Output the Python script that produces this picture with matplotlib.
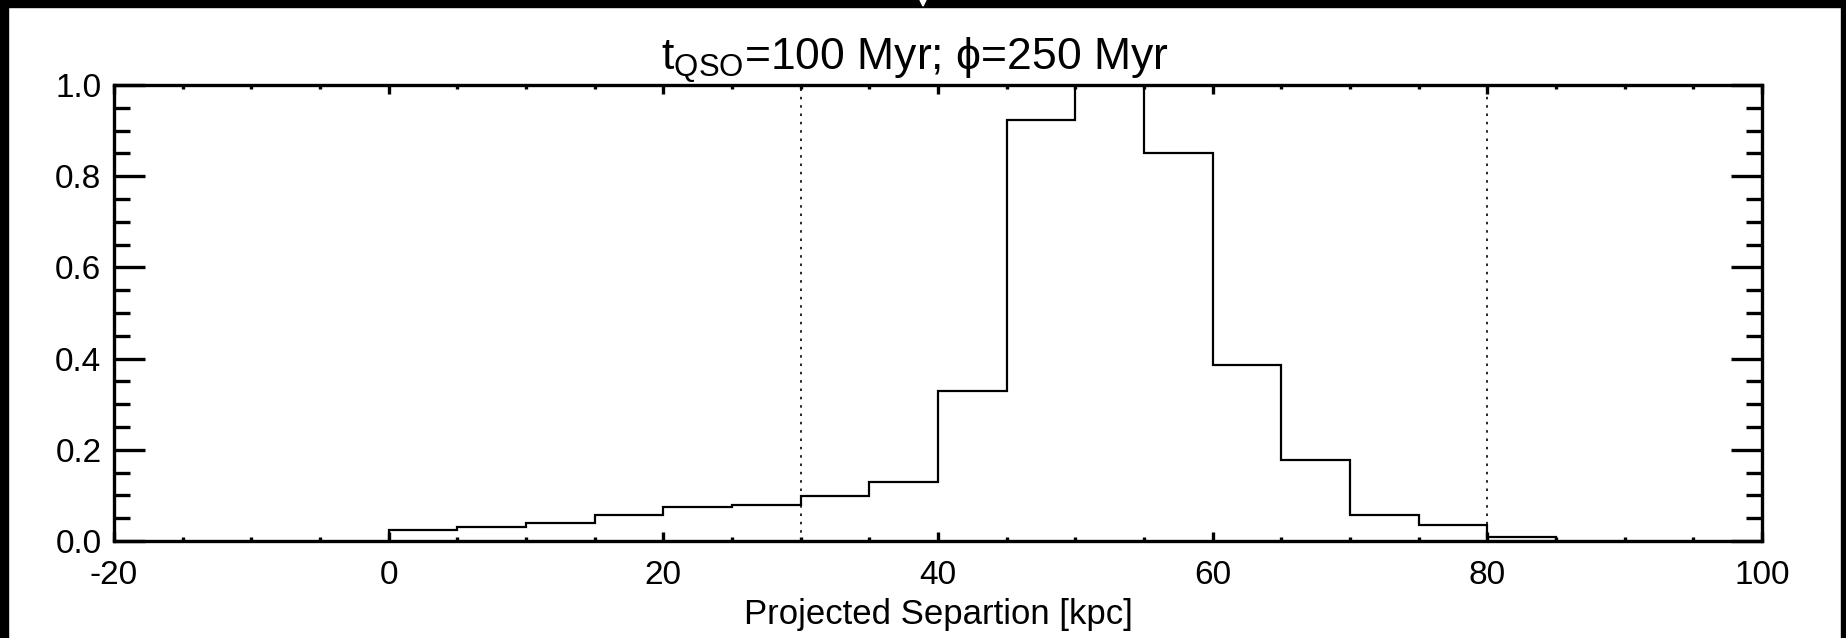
import numpy as np
import matplotlib
matplotlib.use('Agg')
import matplotlib.pyplot as plt
from matplotlib.patches import Rectangle, Polygon

plt.rcParams['font.family'] = ['Liberation Sans', 'DejaVu Sans']
plt.rcParams['mathtext.fontset'] = 'custom'
plt.rcParams['mathtext.rm'] = 'Liberation Sans'
plt.rcParams['axes.unicode_minus'] = False

# histogram bins (kpc) and normalised counts
bin_edges = [0, 5, 10, 15, 20, 25, 30, 35, 40, 45, 50, 55, 60, 65, 70, 75, 80, 85]
counts = [0.024, 0.030, 0.040, 0.057, 0.074, 0.080, 0.099, 0.130, 0.328,
          0.924, 1.0, 0.850, 0.385, 0.178, 0.057, 0.035, 0.008]
markers_x = [30, 80]

xticks = [-20, 0, 20, 40, 60, 80, 100]
yticks = [0.0, 0.2, 0.4, 0.6, 0.8, 1.0]

fig = plt.figure(figsize=(18.46, 6.38), dpi=100)
ax = fig.add_axes([114/1846, 97/638, 1648/1846, 456/638])

ax.stairs(counts, bin_edges, baseline=0, color='black', lw=1.6)
for xm in markers_x:
    ax.axvline(xm, color='black', lw=1.2, dashes=(1.5, 3.5))

ax.set_xlim(-20, 100)
ax.set_ylim(0, 1.0)
ax.set_xticks(xticks)
ax.set_xticks(np.arange(-20, 101, 5), minor=True)
ax.set_yticks(yticks)
ax.set_yticks(np.arange(0, 1.001, 0.05), minor=True)
ax.set_yticklabels(['%.1f' % v for v in yticks])

ax.tick_params(which='both', direction='in', top=True, right=True, width=2.4, labelsize=24)
ax.tick_params(axis='x', which='major', length=6.5, pad=14)
ax.tick_params(axis='x', which='minor', length=3.2)
ax.tick_params(axis='y', which='major', length=22.5, pad=9)
ax.tick_params(axis='y', which='minor', length=11.5)
for s in ax.spines.values():
    s.set_linewidth(2.4)

ax.set_xlabel('Projected Separtion [kpc]', fontsize=25, labelpad=5)
ax.set_title(r'$\mathregular{t_{QSO}}$=100 Myr; ϕ=250 Myr', fontsize=32, pad=10, x=0.486)

# screenshot frame
fig.add_artist(Rectangle((0, 0), 8/1846, 1, transform=fig.transFigure, color='black', zorder=10))
fig.add_artist(Rectangle((0, 1 - 7/638), 1, 7/638, transform=fig.transFigure, color='black', zorder=10))
fig.add_artist(Rectangle((1841/1846, 0), 5/1846, 1, transform=fig.transFigure, color='black', zorder=10))
fig.add_artist(Polygon([(920/1846, 1), (926/1846, 1), (923/1846, 1 - 6/638)],
                       transform=fig.transFigure, color='white', zorder=11))

fig.savefig('out.png', dpi=100)
